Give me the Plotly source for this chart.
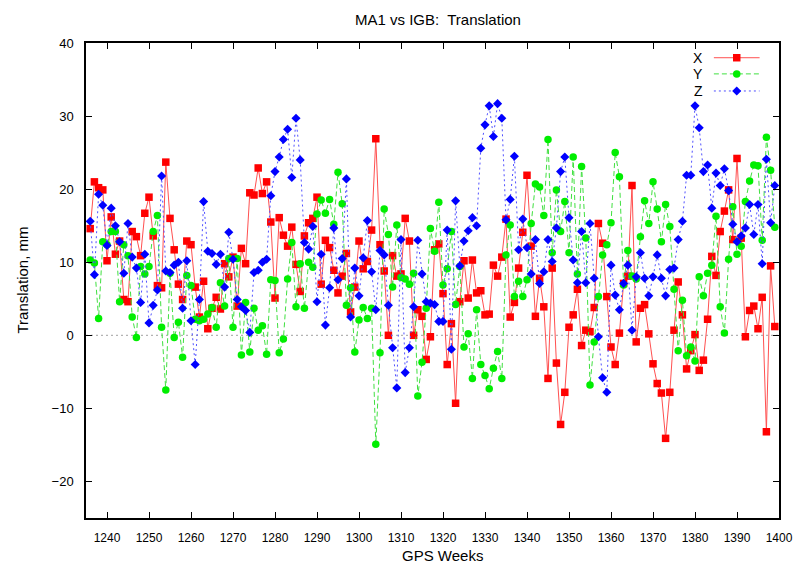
import plotly.graph_objects as go

weeks = list(range(1236, 1400))

x_vals = [
    14.6, 21.0, 20.2, 19.9, 10.2, 16.2, 11.1, 12.9, 4.9, 4.6,      # 1236-1245
    14.2, 13.5, 10.9, 16.7, 18.9, 13.6, 6.8, 6.5, 23.7, 16.0,      # 1246-1255
    11.7, 7.0, 4.9, 12.9, 12.4, 6.6, 2.5, 7.4, 0.9, 3.7,           # 1256-1265
    5.2, 3.6, 9.8, 8.0, 10.7, 4.0, 11.9, 9.8, 19.5, 19.2,          # 1266-1275
    22.9, 19.4, 21.0, 15.5, 5.1, 16.1, 13.7, 12.2, 14.8, 9.7,      # 1276-1285
    6.0, 13.6, 15.4, 16.0, 18.9, 7.0, 13.0, 12.0, 8.9, 5.8,        # 1286-1295
    8.1, 11.2, 3.2, 6.6, 12.9, 9.1, 10.1, 14.4, 26.9, 12.4,        # 1296-1305
    8.8, 0.0, 10.9, 8.1, 8.4, 16.0, 12.9, 0.0, 3.5, 2.6,           # 1306-1315
    -3.3, -0.2, 11.7, 12.5, 5.7, -4.0, 1.6, -9.3, 4.6, 10.2,       # 1316-1325
    5.1, 10.3, 5.8, 6.1, 2.8, 2.9, 9.6, 8.1, 10.7, 15.9,           # 1326-1335
    2.5, 4.5, 9.2, 14.1, 21.9, 12.2, 2.6, 7.8, 3.9, -5.9,          # 1336-1345
    9.2, -3.8, -12.2, -7.8, 1.1, 2.8, 6.3, -1.4, 0.7, 0.5,         # 1346-1355
    3.8, 15.3, 12.6, 5.3, -1.6, -4.0, 0.3, 7.1, 8.1, 20.5,         # 1356-1365
    -0.9, 3.7, 4.2, 0.2, -3.9, -6.6, -7.9, -14.1, -7.8, 0.7,       # 1366-1375
    7.3, 2.8, -4.6, -2.1, 0.1, -4.8, -3.4, 2.2, 10.8, 8.2,         # 1376-1385
    14.2, 17.0, 19.9, 13.1, 24.2, 13.3, -0.2, 3.4, 4.0, 0.9,       # 1386-1395
    5.2, -13.2, 9.5, 1.2,                                          # 1396-1399
]

y_vals = [
    10.3, 9.9, 2.3, 12.8, 12.4, 14.2, 14.2, 4.6, 12.4, 10.9,       # 1236-1245
    2.5, -0.3, 9.4, 8.4, 9.4, 14.2, 16.4, 1.1, -7.5, 8.5,          # 1246-1255
    -0.3, 1.8, -3.0, 8.2, 6.8, 2.2, 2.0, 2.2, 2.9, 3.8,            # 1256-1265
    1.1, 7.2, 4.0, 10.5, 1.1, 10.5, -2.7, 4.5, -2.3, 3.7,          # 1266-1275
    0.7, 1.3, -2.6, 7.6, 7.5, -2.4, -0.5, 7.7, 12.7, 3.9,          # 1276-1285
    9.8, 3.7, 10.0, 9.3, 16.6, 18.5, 16.7, 18.6, 15.2, 22.3,       # 1286-1295
    18.0, 4.1, 6.5, -2.3, 2.1, 3.8, 2.3, 3.7, -14.9, -2.4,         # 1296-1305
    17.3, 13.8, 6.6, 15.1, 7.9, 7.7, 7.0, 8.5, -8.3, -3.7,         # 1306-1315
    3.7, 14.6, 11.5, 18.2, 6.9, 9.1, 14.2, 4.2, 9.4, -1.6,         # 1316-1325
    0.2, -5.9, 3.5, -4.0, -5.5, -7.3, -4.5, -2.2, -5.9, 11.0,      # 1326-1335
    15.1, 5.3, 7.4, 5.3, 7.6, 15.3, 20.7, 20.3, 16.4, 26.8,        # 1336-1345
    11.3, 19.9, 14.2, 18.3, 11.3, 24.4, 8.4, 23.1, 13.3, -6.8,     # 1346-1355
    -0.9, 5.3, 11.0, 12.4, 15.4, 25.0, 21.7, 6.9, 11.6, 8.1,       # 1356-1365
    7.7, 13.5, 18.4, 15.3, 21.0, 17.3, 12.8, 17.9, 14.9, 6.3,      # 1366-1375
    -2.1, 4.8, -2.8, -1.6, -3.5, 8.0, 5.4, 8.5, 9.6, 16.3,         # 1376-1385
    3.9, 0.3, 10.4, 17.6, 11.1, 12.2, 18.3, 21.1, 23.3, 23.2,      # 1386-1395
    13.0, 27.1, 22.6, 14.8,                                        # 1396-1399
]

z_vals = [
    15.6, 8.3, 19.3, 17.8, 12.3, 17.4, 15.0, 12.8, 8.5, 15.3,      # 1236-1245
    10.7, 9.2, 4.5, 11.1, 1.7, 4.1, 6.2, 21.8, 8.8, 8.6,           # 1246-1255
    9.6, 10.0, 3.7, 10.2, 2.0, -4.0, 4.9, 18.3, 11.5, 11.2,        # 1256-1265
    9.7, 11.1, 6.6, 14.1, 10.4, 4.9, 3.9, 3.4, 0.4, 8.6,           # 1266-1275
    8.9, 10.0, 10.4, 19.1, 22.4, 24.4, 26.8, 28.2, 21.6, 29.7,     # 1276-1285
    24.0, 12.7, 11.8, 14.9, 4.6, 11.1, 1.4, 6.5, 14.7, 7.6,        # 1286-1295
    10.5, 21.4, 2.5, 9.2, 5.4, 10.6, 15.7, 8.7, 3.5, 11.6,         # 1296-1305
    11.0, 4.1, -1.7, -7.2, 13.1, -5.1, -1.7, 3.9, 13.0, 8.4,       # 1306-1315
    4.6, 4.4, 4.2, 1.9, 1.9, 14.4, -1.9, 18.4, 9.5, 12.9,          # 1316-1325
    14.3, 16.1, 15.0, 25.6, 28.8, 31.4, 27.2, 31.7, 29.7, 15.8,    # 1326-1335
    18.6, 24.5, 11.7, 15.9, 12.0, 8.4, 13.1, 7.1, 8.7, 13.1,       # 1336-1345
    10.1, 14.7, 22.4, 24.4, 16.1, 10.3, 7.2, 14.2, 7.2, 15.3,      # 1346-1355
    7.8, -0.2, -5.8, -7.8, 9.6, 5.5, 3.5, 7.1, 9.6, 0.7,           # 1356-1365
    8.0, 11.3, 7.8, 5.4, 8.0, 11.0, 7.8, 5.4, 9.0, 9.2,            # 1366-1375
    13.1, 15.6, 21.9, 21.9, 31.4, 28.4, 22.4, 23.3, 17.4, 22.2,    # 1376-1385
    20.5, 22.8, 19.8, 15.2, 12.8, 13.6, 14.7, 17.9, 13.8, 17.9,    # 1386-1395
    9.8, 24.1, 15.4, 20.5,                                         # 1396-1399
]

series_names = ["X", "Y", "Z"]
x_ticks = list(range(1240, 1401, 10))
y_ticks = list(range(-20, 41, 10))

FONT = "Liberation Sans, Arial, sans-serif"
NARROW = "Liberation Sans Narrow, Liberation Sans, Arial, sans-serif"

styles = [
    dict(line=dict(color="#ff5050", width=1, dash="solid"),
         marker=dict(symbol="square", size=7.5, color="#ff0000")),
    dict(line=dict(color="#40e040", width=1, dash="5px,3px"),
         marker=dict(symbol="circle", size=7.5, color="#00ee00")),
    dict(line=dict(color="#5050ff", width=1, dash="2px,3px"),
         marker=dict(symbol="diamond", size=7, color="#0000ff")),
]

fig = go.Figure()

for name, vals, st in zip(series_names, [x_vals, y_vals, z_vals], styles):
    fig.add_trace(go.Scatter(x=weeks, y=vals, mode="lines+markers", name=name,
                             line=st["line"], marker=st["marker"], showlegend=False))

# custom gnuplot-style key (text left, sample right) on an overlay axis
key_rows = [0.969, 0.935, 0.899]
for name, st, yk in zip(series_names, styles, key_rows):
    fig.add_trace(go.Scatter(x=[0.906, 0.972], y=[yk, yk], mode="lines", line=st["line"],
                             xaxis="x2", yaxis="y2", showlegend=False, hoverinfo="skip"))
    fig.add_trace(go.Scatter(x=[0.939], y=[yk], mode="markers", marker=st["marker"],
                             xaxis="x2", yaxis="y2", showlegend=False, hoverinfo="skip"))
    fig.add_annotation(x=0.893, y=yk, xref="paper", yref="paper", text=name,
                       showarrow=False, xanchor="right", yanchor="middle",
                       font=dict(family=FONT, size=14, color="black"))

# dotted zero axis
fig.add_shape(type="line", xref="paper", yref="y", x0=0, x1=1, y0=0, y1=0,
              line=dict(color="#a0a0a0", width=1, dash="2px,3px"), layer="below")

fig.update_layout(
    width=805, height=567,
    margin=dict(l=86, r=15, t=43, b=49),
    paper_bgcolor="white", plot_bgcolor="white",
    showlegend=False,
    xaxis=dict(range=[1235, 1400], tickvals=x_ticks, ticks="inside", ticklen=6,
               tickcolor="black", showline=True, linecolor="black", linewidth=1.5,
               mirror="ticks", showgrid=False, zeroline=False,
               tickfont=dict(family=NARROW, size=12, color="black"),
               ticklabelstandoff=8),
    yaxis=dict(range=[-25, 40], tickvals=y_ticks, ticks="inside", ticklen=6,
               tickcolor="black", showline=True, linecolor="black", linewidth=1.5,
               mirror="ticks", showgrid=False, zeroline=False,
               tickfont=dict(family=FONT, size=13, color="black"),
               ticklabelstandoff=8),
    xaxis2=dict(range=[0, 1], overlaying="x", visible=False, fixedrange=True),
    yaxis2=dict(range=[0, 1], overlaying="y", visible=False, fixedrange=True),
)

fig.add_annotation(x=0.508, y=1.0, xref="paper", yref="paper", yshift=24,
                   text="MA1 vs IGB:  Translation", showarrow=False,
                   xanchor="center", yanchor="middle",
                   font=dict(family=FONT, size=15, color="black"))
fig.add_annotation(x=0.515, y=0, xref="paper", yref="paper", yshift=-37,
                   text="GPS Weeks", showarrow=False, xanchor="center", yanchor="middle",
                   font=dict(family=FONT, size=15, color="black"))
fig.add_annotation(x=0, y=0.5, xref="paper", yref="paper", xshift=-64,
                   text="Translation, mm", showarrow=False, textangle=-90,
                   xanchor="center", yanchor="middle",
                   font=dict(family=FONT, size=15, color="black"))

fig.write_html("out.html")
